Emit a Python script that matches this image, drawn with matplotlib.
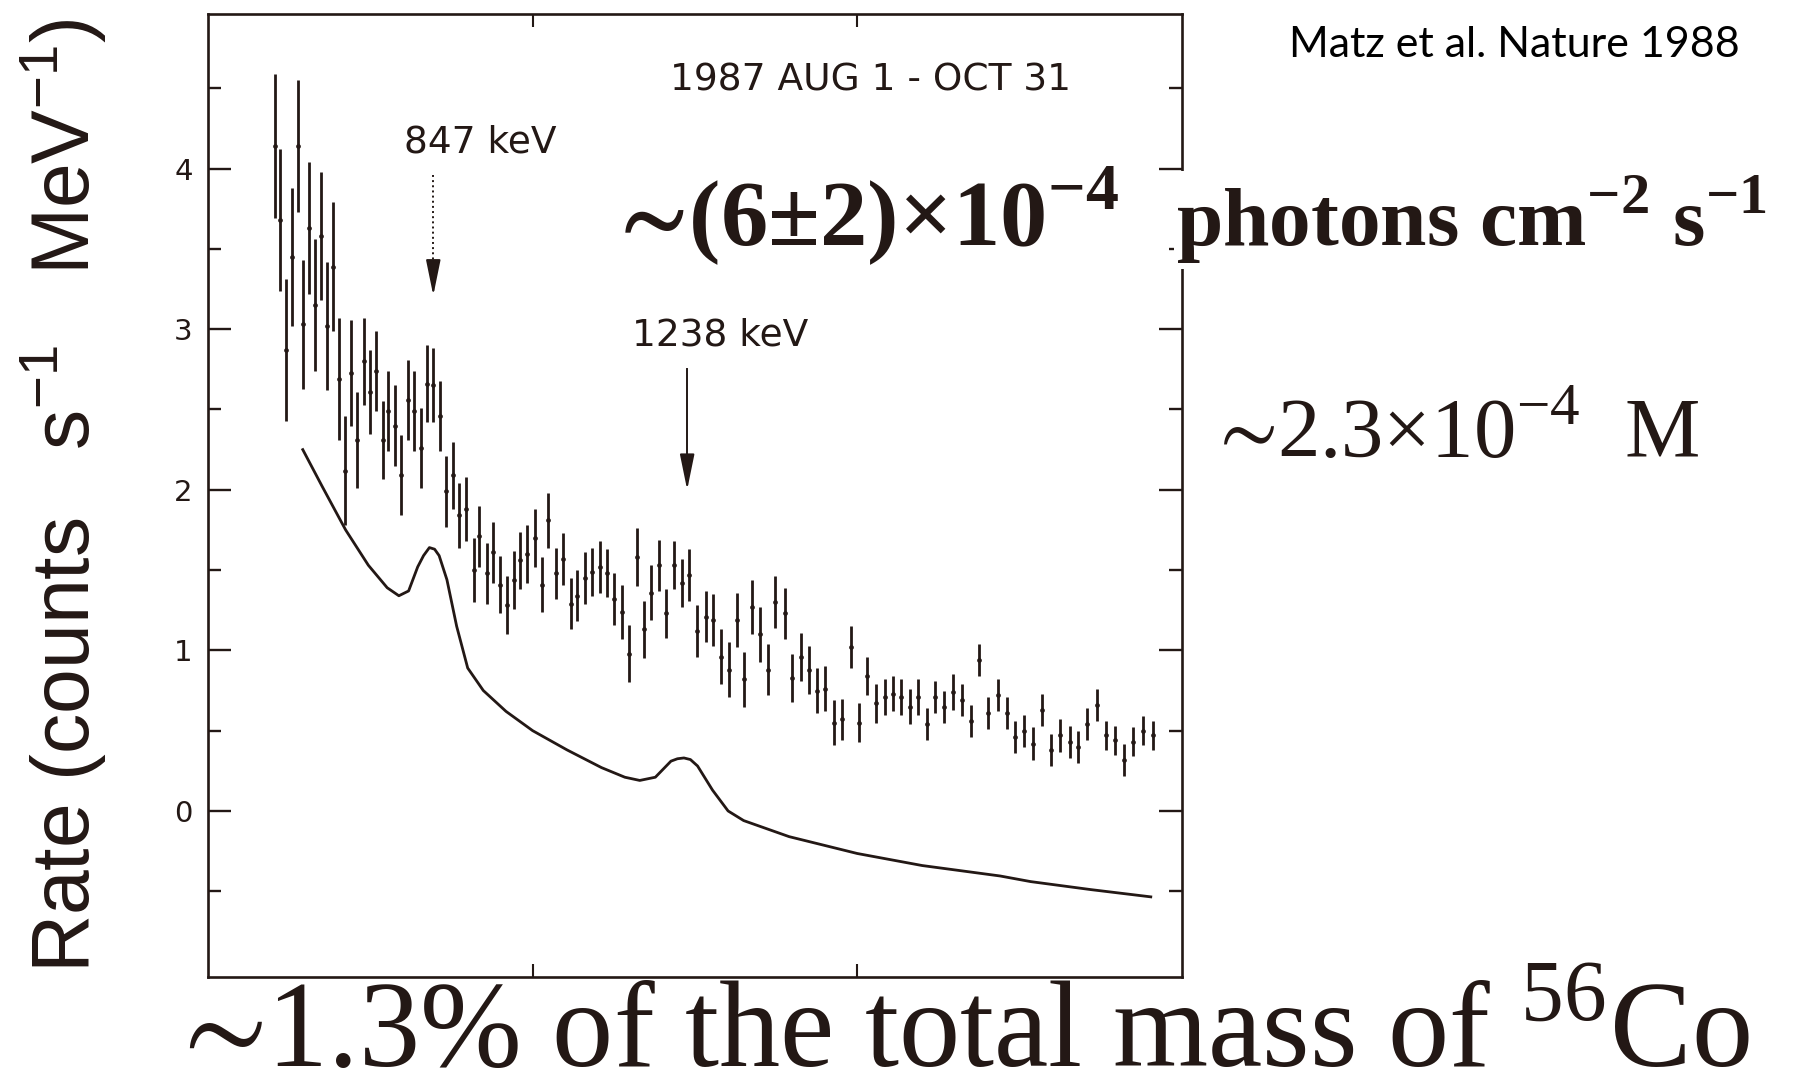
import matplotlib
matplotlib.use("Agg")
import matplotlib.pyplot as plt

ink = "#231815"

# measured spectrum, 1987 Aug 1 - Oct 31 (energy in keV)
energy = [603, 611, 620, 629, 638, 646, 656, 665, 674, 683, 692, 702, 711, 720, 730, 740, 749, 759,
          769, 778, 788, 798, 808, 817, 828, 837, 847,
          857, 867, 877, 887, 897, 909, 918, 929, 939, 950, 961, 971, 980, 992, 1004, 1014, 1024,
          1036, 1047, 1059, 1069, 1081, 1091, 1103, 1114, 1125,
          1137, 1149, 1160, 1171, 1183, 1195, 1206, 1217, 1230, 1241, 1253, 1267, 1278, 1290, 1302,
          1314, 1326, 1338, 1350, 1363, 1374, 1388, 1400,
          1413, 1426, 1438, 1451, 1464, 1477, 1490, 1503, 1515, 1529, 1542, 1555, 1567, 1581, 1594,
          1607, 1620, 1633, 1648, 1661, 1675, 1688, 1702,
          1716, 1730, 1743, 1756, 1770, 1784, 1798, 1812, 1827, 1840, 1854, 1869, 1883, 1897, 1911,
          1925, 1940, 1955]
rate = [4.14, 3.68, 2.87, 3.45, 4.14, 3.03, 3.63, 3.15, 3.58, 3.02, 3.39, 2.69, 2.12, 2.73, 2.31,
        2.80, 2.61, 2.74, 2.31, 2.49, 2.40, 2.09, 2.56, 2.49, 2.26, 2.66, 2.65,
        2.46, 1.99, 2.09, 1.84, 1.88, 1.50, 1.71, 1.48, 1.61, 1.41, 1.28, 1.44, 1.56, 1.60, 1.70,
        1.41, 1.81, 1.48, 1.57, 1.29, 1.34, 1.45, 1.49, 1.52, 1.48, 1.32,
        1.24, 0.98, 1.58, 1.13, 1.36, 1.53, 1.23, 1.53, 1.42, 1.47, 1.12, 1.21, 1.19, 0.96, 0.88,
        1.19, 0.82, 1.27, 1.10, 0.88, 1.30, 1.23, 0.83,
        0.96, 0.88, 0.75, 0.76, 0.55, 0.57, 1.02, 0.55, 0.84, 0.67, 0.71, 0.73, 0.71, 0.65, 0.71,
        0.54, 0.71, 0.65, 0.74, 0.69, 0.56, 0.94, 0.61,
        0.72, 0.61, 0.46, 0.50, 0.42, 0.63, 0.38, 0.47, 0.43, 0.40, 0.54, 0.66, 0.47, 0.44, 0.32,
        0.43, 0.50, 0.47]
rate_err = [.45, .44, .44, .43, .41, .40, .41, .41, .40, .40, .40, .38, .34, .33, .30, .27, .26, .25,
            .24, .25, .25, .25, .25, .25, .25, .24, .23,
            .22, .22, .21, .20, .20, .20, .19, .19, .19, .18, .18, .18, .18, .18, .18, .17, .17,
            .16, .16, .16, .16, .16, .15, .16, .15, .16,
            .17, .18, .18, .18, .17, .16, .15, .15, .15, .16, .16, .16, .16, .17, .17, .17, .17,
            .17, .17, .16, .16, .16, .15,
            .15, .15, .14, .14, .14, .13, .13, .12, .12, .12, .11, .11, .11, .11, .11, .10, .10,
            .10, .11, .10, .10, .10, .10,
            .10, .10, .10, .10, .10, .10, .10, .10, .10, .10, .10, .10, .09, .09, .10, .09, .09, .09]

# background model curve
model_energy = [646, 676, 712, 747, 776, 794, 809, 823, 832, 841, 849, 856, 868, 883, 900, 924,
                959, 1000, 1053, 1106, 1142, 1165, 1189, 1213, 1223, 1233, 1243, 1254, 1277,
                1301, 1325, 1360, 1395, 1500, 1600, 1720, 1767, 1860, 1952]
model_rate = [2.25, 2.02, 1.75, 1.53, 1.39, 1.34, 1.37, 1.52, 1.59, 1.64, 1.63, 1.59, 1.44, 1.15,
              0.89, 0.75, 0.62, 0.50, 0.38, 0.27, 0.21, 0.19, 0.21, 0.31, 0.325, 0.33, 0.32,
              0.28, 0.13, 0.0, -0.06, -0.11, -0.16, -0.265, -0.34, -0.405, -0.44, -0.49, -0.535]

# line markers: energy, arrow start, arrow tip, label position
lines_kev = [847, 1238]
line_labels = ["847 keV", "1238 keV"]
arrow_top = [3.96, 2.75]
arrow_tip = [3.21, 2.00]
label_x = [919, 1289]
label_y = [4.16, 2.96]
arrow_style = [":", "-"]

y_major = [0, 1, 2, 3, 4]
y_minor = [-0.5, 0.5, 1.5, 2.5, 3.5, 4.5]
x_major = [1000, 1500]

plt.rcParams["mathtext.fontset"] = "custom"
plt.rcParams["mathtext.rm"] = "Liberation Serif"
plt.rcParams["mathtext.bf"] = "Liberation Serif:bold"
plt.rcParams["mathtext.sf"] = "Liberation Sans"
plt.rcParams["mathtext.fallback"] = "stix"

fig = plt.figure(figsize=(17.96, 10.91), dpi=100)
ax = fig.add_axes([0.1158, 0.1045, 0.5423, 0.8827])

ax.errorbar(energy, rate, yerr=rate_err, fmt="o", ms=3.4, mew=0, color=ink, ecolor=ink,
            elinewidth=2.0, capsize=2.4, capthick=2.0)
ax.plot(model_energy, model_rate, color=ink, lw=2.0)

for e, txt, top, tip, lx, ly, ls in zip(lines_kev, line_labels, arrow_top, arrow_tip,
                                         label_x, label_y, arrow_style):
    ax.plot([e, e], [top, tip + 0.15], color=ink, lw=1.4, ls=ls)
    ax.annotate("", xy=(e, tip), xytext=(e, tip + 0.2),
                arrowprops=dict(arrowstyle="-|>,head_length=2.2,head_width=0.45",
                                color=ink, lw=1.4, shrinkA=0, shrinkB=0))
    ax.text(lx, ly, txt, ha="center", va="center", fontsize=27, color=ink,
            family="DejaVu Sans")

ax.text(1521, 4.55, "1987 AUG 1 - OCT 31", ha="center", va="center", fontsize=27,
        color=ink, family="DejaVu Sans")

ax.set_xlim(500, 2000)
ax.set_ylim(-1.034, 4.963)
ax.set_yticks(y_major)
ax.set_yticks(y_minor, minor=True)
ax.set_xticks(x_major)
ax.set_xticklabels([])
ax.tick_params(axis="both", which="both", direction="in", top=True, right=True, colors=ink)
ax.tick_params(axis="y", which="major", length=16.5, width=1.7, labelsize=21, pad=11)
ax.tick_params(axis="y", which="minor", length=9.5, width=1.7)
ax.tick_params(axis="x", which="major", length=9.5, width=1.5)
for lab in ax.get_yticklabels():
    lab.set_family("DejaVu Sans")
for s in ax.spines.values():
    s.set_linewidth(1.9)
    s.set_color(ink)

fig.text(0.035, 0.546, r"Rate (counts   s$^{\mathsf{-1}}$   MeV$^{\mathsf{-1}}$)",
         rotation=90, ha="center", va="center", fontsize=58, color=ink,
         family="Liberation Sans")

fig.text(0.344, 0.7745, "$\\mathbf{\u223c}$(6$\\mathbf{\\pm}$2)$\\mathbf{\\times}$10$^{\\mathbf{-4}}$",
         ha="left", va="baseline", fontsize=68, fontweight="bold", color=ink,
         family="Liberation Serif", zorder=5)
fig.text(0.6548, 0.7745, r"photons cm$^{\mathbf{-2}}$ s$^{\mathbf{-1}}$",
         ha="left", va="baseline", fontsize=60, fontweight="bold", color=ink,
         family="Liberation Serif", zorder=5,
         bbox=dict(facecolor="white", edgecolor="none", pad=2))
fig.text(0.679, 0.580, "$\u223c$2.3$\\times$10$^{-4}$  M", ha="left", va="baseline",
         fontsize=61, color=ink, family="Liberation Serif")
fig.text(0.102, 0.0225, "$\u223c$1.3% of the total mass of $^{56}$Co", ha="left",
         va="baseline", fontsize=88, color=ink, family="Liberation Serif")
fig.text(0.7177, 0.948, "Matz et al. Nature 1988", ha="left", va="baseline",
         fontsize=31, color="black", family="Lato")

fig.savefig("out.png", dpi=100, facecolor="white")
